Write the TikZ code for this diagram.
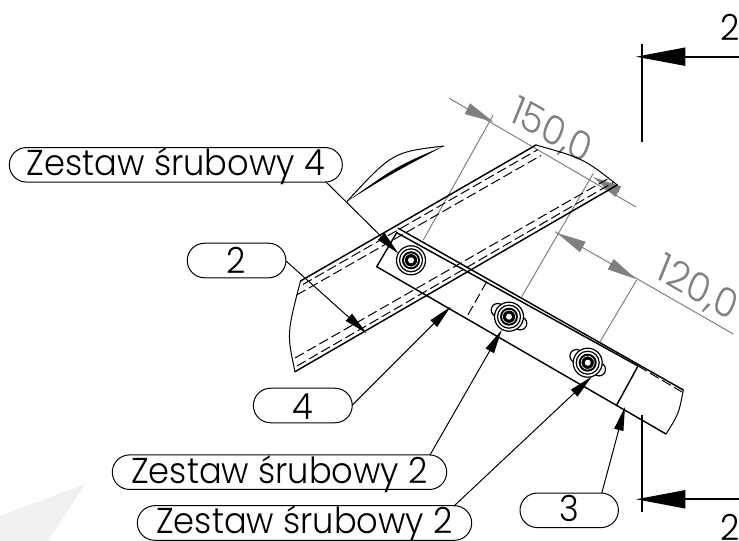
\documentclass[tikz,border=0pt]{standalone}
\usepackage{fontspec}
\setmainfont{Poppins}[UprightFont=* Light]
\newfontfamily\labelfont{Poppins}[UprightFont=* Light,FakeStretch=0.935]
\usetikzlibrary{arrows.meta,shapes.misc}
\definecolor{dimgray}{HTML}{808080}
\definecolor{markgray}{HTML}{F0F0F0}
\tikzset{
  x=0.75pt,y=-0.75pt,
  edgeline/.style={draw=black,line width=1.1pt,line cap=round},
  thinline/.style={draw=black,line width=0.75pt},
  hidden/.style={draw=black,line width=0.75pt,dash pattern=on 7.5pt off 3pt},
  balloon/.style={draw=black,line width=0.75pt,rounded rectangle,inner sep=0pt,minimum height=25.9pt,fill=white,text height=#1,text depth=0pt},
  balloon/.default=16.8pt,
  balloontext/.style={font=\labelfont\fontsize{27}{27}\selectfont},
  leader/.style={draw=black,line width=0.75pt,-{Triangle[length=18pt,width=7pt]}},
  dimline/.style={draw=dimgray,line width=0.75pt},
  dimarrow/.style={dimgray,-{Triangle[length=22pt,width=9pt]}},
  dimtext/.style={text=dimgray,font=\fontsize{29}{29}\selectfont,inner sep=0pt,transform shape,rotate=-30,xslant=-0.14},
  section/.style={draw=black,line width=1.4pt},
  sectionarrow/.style={draw=black,line width=1.4pt,-{Triangle[length=37pt,width=13.5pt]}},
  ring/.style={draw=black,line width=0.9pt},
}
\begin{document}
\begin{tikzpicture}
\useasboundingbox (0,0) rectangle (739,541);
\fill[markgray] (0,516) -- (85,484) -- (48,541) -- (0,541) -- cycle;

% coordinates
\coordinate (wa) at (300.5,281);
\coordinate (wb) at (536,145);
\coordinate (wc) at (617.3,185);
\coordinate (wd) at (295,371.7);
\coordinate (pa) at (398.3,228.3);
\coordinate (pb) at (683.3,390);
\coordinate (pc) at (666,434);
\coordinate (pd) at (376.7,266.7);
\coordinate (bolta) at (411,260.3);
\coordinate (boltb) at (509,316.7);
\coordinate (boltc) at (587.7,362.7);

% dimension lines (under the part)
\path[dimline] (449.3,98.3) -- (636,207);
\path[dimline] (493.3,115) -- (423.3,240);
\path[dimline] (593.3,173.3) -- (521.7,296.7);
\path[dimline] (555,231.7) -- (733.3,334);
\path[dimline] (636.7,280) -- (600,341.7);
\draw[dimarrow,line width=0pt] (467,108.5) -- (493.5,122);
\draw[dimarrow,line width=0pt] (618,191.5) -- (593,177);
\draw[dimarrow,line width=0pt] (581,246) -- (557,233);
\draw[dimarrow,line width=0pt] (612,265) -- (636,279);
\node[dimtext] (dimA) at (551,132) {150,0};
\node[dimtext] (dimB) at (697,289) {120,0};

% wing
\draw[edgeline] (wa) -- (wb);
\draw[edgeline] (wd) -- (wc);
\draw[thinline] (wa) .. controls (286.85,333.65) .. (wd);
\draw[thinline] (wb) .. controls (583.35,158.4) .. (wc);
\draw[hidden] (303,284.5) -- (538,149.5);
\draw[hidden] (296.7,295) -- (541,155.5);
\draw[hidden] (295,358) -- (611,177);
\draw[hidden] (297,366) -- (614,182);

% crescent
\draw[thinline] (346.7,201.7) .. controls (392.65,152.15) .. (444,146);
\fill[black] (346.7,201.7) .. controls (390.65,174.15) .. (444,146) .. controls (396.65,166.15) .. cycle;

% plate
\draw[edgeline] (pa) -- (pb);
\draw[edgeline] (pd) -- (pc);
\draw[edgeline] (pd) -- (396.7,232.7) -- (638,366);
\draw[thinline] (pb) .. controls (678.75,414) .. (pc);
\draw[hidden] (638,366) -- (682,392);
\draw[edgeline] (637.3,367.3) -- (616.7,405);
\draw[hidden] (486.7,281.7) -- (466,318.3);

% bolts
\foreach \b in {boltb,boltc}{
  \draw[ring,fill=white] (\b) ++(11.3,6.7) circle[radius=6.5];
  \draw[ring,fill=white] (\b) ++(-11.3,-6.7) circle[radius=6.5];
}
\foreach \b in {bolta,boltb,boltc}{
  \draw[ring,fill=white] (\b) circle[radius=14.5];
  \draw[ring] (\b) circle[radius=11.5];
  \fill[black] (\b) circle[radius=9];
  \draw[white,line width=0.45pt] (\b) circle[radius=6.6];
  \fill[white] (\b) circle[radius=3];
}

% balloons
\node[balloon,minimum width=249.8pt,balloontext] (zt) at (175.8,164.8) {Zestaw śrubowy 4};
\node[balloon=20.25pt,minimum width=74pt,balloontext] (two) at (236.6,260.5) {2};
\node[balloon=21.75pt,minimum width=74.2pt,balloontext] (four) at (302.8,405.5) {4};
\node[balloon,minimum width=250.8pt,balloontext] (zma) at (279.5,472.2) {Zestaw śrubowy 2};
\node[balloon=15.75pt,minimum width=250.8pt,balloontext] (zmb) at (304.5,523) {Zestaw śrubowy 2};
\node[balloon,minimum width=73.8pt,balloontext] (three) at (569.2,510.3) {3};

% leaders
\coordinate (zts) at (325.7,181.7);
\coordinate (zttip) at (398.3,253.3);
\coordinate (twos) at (286,261);
\coordinate (twotip) at (366.7,333.3);
\coordinate (fours) at (352.3,405);
\coordinate (fourtip) at (450.7,306.7);
\coordinate (zmas) at (430,455);
\coordinate (zmatip) at (501.7,330);
\coordinate (zmbs) at (454,506);
\coordinate (zmbtip) at (591.7,376.7);
\coordinate (threes) at (601.7,493.3);
\coordinate (threetip) at (625,406.7);
\draw[leader] (zts) -- (zttip);
\draw[leader] (twos) -- (twotip);
\draw[leader] (fours) -- (fourtip);
\draw[leader] (zmas) -- (zmatip);
\draw[leader] (zmbs) -- (zmbtip);
\draw[leader] (threes) -- (threetip);

% section marks
\coordinate (sat) at (642.3,44);
\coordinate (sab) at (642.3,141.7);
\coordinate (sae) at (739,56.7);
\coordinate (satip) at (636,56.7);
\coordinate (sbt) at (642.3,415);
\coordinate (sbb) at (642.3,511.7);
\coordinate (sbe) at (739,499.3);
\coordinate (sbtip) at (636,499.3);
\draw[section] (sat) -- (sab);
\draw[section] (sbt) -- (sbb);
\draw[sectionarrow] (sae) -- (satip);
\draw[sectionarrow] (sbe) -- (sbtip);
\node[balloontext,inner sep=0pt,anchor=base] (sla) at (730,40.7) {2};
\node[balloontext,inner sep=0pt,anchor=base] (slb) at (730,540) {2};
\end{tikzpicture}
\end{document}
